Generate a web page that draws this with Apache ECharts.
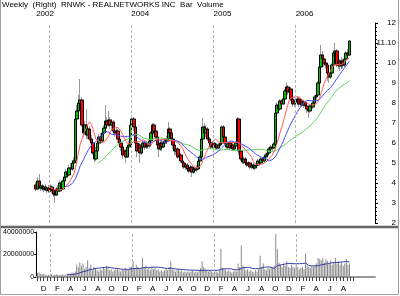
<!DOCTYPE html>
<html><head><meta charset="utf-8">
<script src="https://cdn.jsdelivr.net/npm/echarts@6/dist/echarts.min.js"></script>
<style>html,body{margin:0;padding:0;background:#fff}#c{width:400px;height:296px}</style>
</head><body><div id="c"></div>
<script>
// ---- data (weekly, first week 2002-11-04) ----
const firstWeek = '2002-11-04';
const opens = [
3.9,3.7,4.1,3.75,3.85,3.7,3.8,3.65,3.75,3.6,
3.8,3.65,3.45,3.4,3.7,3.6,4.0,3.7,4.1,4.3,
4.55,4.4,4.75,4.7,5.0,5.1,7.2,7.6,8.0,8.15,
6.9,6.5,6.9,6.4,6.7,6.2,6.0,5.5,5.2,5.6,
6.0,6.3,6.1,6.5,6.75,7.1,6.9,7.15,6.9,7.05,
6.6,6.5,6.6,6.2,6.0,5.8,5.4,5.6,5.3,5.8,
5.9,6.9,7.2,6.8,6.0,5.6,5.9,5.5,5.8,6.0,
5.8,5.95,5.85,6.1,6.5,6.9,6.6,6.3,5.9,5.7,
6.0,5.8,6.0,6.1,6.2,6.7,6.5,6.2,5.9,5.6,
5.7,5.3,5.4,5.1,5.0,4.8,4.9,4.7,4.6,4.8,
4.55,4.7,4.65,4.7,5.1,5.3,6.2,6.8,6.5,6.7,
6.2,6.0,5.8,6.0,5.8,5.9,5.75,5.9,6.0,6.8,
6.3,6.0,5.8,6.0,5.75,5.9,5.7,5.85,6.0,7.2,
5.6,5.2,5.05,5.2,5.0,4.9,5.0,4.8,4.9,4.75,
4.85,4.9,5.1,5.0,5.2,5.1,5.3,5.4,5.5,5.7,
5.8,5.75,5.95,7.5,7.9,7.7,8.1,7.95,8.2,8.6,
8.8,8.55,8.7,8.2,7.95,8.1,8.05,8.2,7.95,8.1,
7.9,8.05,7.85,7.7,7.6,7.85,7.8,8.0,8.3,8.4,
9.0,9.8,10.4,10.2,10.0,9.9,9.5,9.3,9.5,9.9,
10.5,10.6,9.9,10.1,9.85,10.1,9.9,10.2,10.5,10.4];
const closes = [
3.7,4.1,3.75,3.85,3.7,3.8,3.65,3.75,3.6,3.8,
3.65,3.45,3.4,3.7,3.6,4.0,3.7,4.1,4.3,4.55,
4.4,4.75,4.7,5.0,5.1,7.2,7.6,8.0,8.15,6.9,
6.5,6.9,6.4,6.7,6.2,6.0,5.5,5.2,5.6,6.0,
6.3,6.1,6.5,6.75,7.1,6.9,7.15,6.9,7.05,6.6,
6.5,6.6,6.2,6.0,5.8,5.4,5.6,5.3,5.8,5.9,
6.9,7.2,6.8,6.0,5.6,5.9,5.5,5.8,6.0,5.8,
5.95,5.85,6.1,6.5,6.9,6.6,6.3,5.9,5.7,6.0,
5.8,6.0,6.1,6.2,6.7,6.5,6.2,5.9,5.6,5.7,
5.3,5.4,5.1,5.0,4.8,4.9,4.7,4.6,4.8,4.55,
4.7,4.65,4.7,5.1,5.3,6.2,6.8,6.5,6.7,6.2,
6.0,5.8,6.0,5.8,5.9,5.75,5.9,6.0,6.8,6.3,
6.0,5.8,6.0,5.75,5.9,5.7,5.85,6.0,7.2,5.6,
5.2,5.05,5.2,5.0,4.9,5.0,4.8,4.9,4.75,4.85,
4.9,5.1,5.0,5.2,5.1,5.3,5.4,5.5,5.7,5.8,
5.75,5.95,7.5,7.9,7.7,8.1,7.95,8.2,8.6,8.8,
8.55,8.7,8.2,7.95,8.1,8.05,8.2,7.95,8.1,7.9,
8.05,7.85,7.7,7.6,7.85,7.8,8.0,8.3,8.4,9.0,
9.8,10.4,10.2,10.0,9.9,9.5,9.3,9.5,9.9,10.5,
10.6,9.9,10.1,9.85,10.1,9.9,10.2,10.5,10.4,11.1];
const lows = [
3.6,3.65,3.7,3.6,3.6,3.55,3.6,3.5,3.5,3.55,
3.5,3.3,3.0,3.35,3.45,3.55,3.6,3.65,4.0,4.2,
4.25,4.35,4.55,4.6,4.85,5.0,7.0,7.5,7.7,6.8,
6.3,6.4,6.2,6.2,6.1,5.8,5.4,5.05,5.1,5.5,
5.9,5.95,6.0,6.3,6.6,6.7,6.8,6.7,6.6,6.5,
6.3,6.2,6.0,5.9,5.6,5.2,5.3,5.0,5.25,5.6,
5.8,6.7,6.6,5.8,5.3,5.5,5.0,5.4,5.7,5.65,
5.7,5.7,5.75,6.0,6.4,6.4,6.1,5.8,5.3,5.6,
5.6,5.75,5.85,5.95,6.1,6.3,6.0,5.7,5.4,5.4,
5.2,5.2,5.0,4.9,4.7,4.65,4.55,4.5,4.5,4.3,
4.45,4.5,4.55,4.65,5.0,5.25,6.1,6.4,6.3,6.1,
5.8,5.7,5.7,5.7,5.7,5.65,5.7,5.8,5.95,6.2,
5.9,5.7,5.7,5.65,5.7,5.6,5.6,5.75,5.95,5.4,
5.1,4.95,4.95,4.9,4.8,4.8,4.7,4.7,4.65,4.65,
4.75,4.85,4.9,4.95,5.0,5.05,5.2,5.3,5.4,5.6,
5.6,5.7,5.9,7.3,7.5,7.6,7.8,7.9,8.1,8.4,
8.4,8.4,8.1,7.8,7.8,7.9,7.9,7.8,7.85,7.8,
7.75,7.7,7.5,7.25,7.5,7.6,7.7,7.95,8.1,8.3,
8.9,9.7,9.9,9.8,9.7,9.1,9.0,9.2,9.4,9.8,
10.2,9.8,9.7,9.6,9.7,9.7,9.8,10.1,10.2,10.35];
const highs = [
4.05,4.3,4.45,3.95,3.95,3.9,3.95,3.85,3.9,3.95,
3.9,3.75,3.6,3.8,3.9,4.15,4.1,4.2,4.45,4.7,
4.75,4.9,5.0,5.15,5.3,7.3,7.9,8.4,9.2,8.3,
7.2,7.1,7.7,6.9,6.85,6.4,6.1,5.7,5.8,6.1,
6.45,6.5,6.7,6.9,7.9,7.3,7.6,7.3,7.2,7.15,
6.8,6.75,6.7,6.3,6.1,5.9,5.7,5.7,5.9,6.1,
7.0,7.4,7.3,7.0,6.2,6.0,6.0,5.9,6.1,6.15,
6.1,6.05,6.2,6.6,7.0,7.0,6.7,6.4,6.0,6.1,
6.1,6.1,6.25,6.35,7.05,6.8,6.6,6.3,6.0,5.8,
5.8,5.5,5.5,5.2,5.1,5.0,5.0,4.85,4.9,4.85,
4.8,4.8,4.9,5.2,5.4,6.3,7.25,7.0,6.9,6.8,
6.3,6.1,6.1,6.1,6.0,6.0,6.0,6.1,6.9,6.9,
6.4,6.1,6.1,6.1,6.0,6.0,5.95,6.1,7.3,7.25,
5.7,5.3,5.35,5.3,5.1,5.1,5.05,5.0,5.0,4.95,
5.0,5.2,5.2,5.3,5.3,5.4,5.5,5.6,5.8,5.9,
5.95,6.05,7.65,8.05,8.1,8.2,8.2,8.3,8.7,9.05,
8.9,8.8,8.8,8.3,8.2,8.3,8.3,8.3,8.2,8.2,
8.15,8.1,7.95,7.8,7.95,8.0,8.1,8.4,8.5,9.1,
9.9,10.9,10.6,10.3,10.2,10.0,9.6,9.7,10.0,10.6,
11.0,10.7,10.2,10.2,10.3,10.2,10.3,10.6,10.7,11.15];
// weekly volume, millions of shares
const volumeMillions = [
3.5,4,3,2.5,3,2,1.5,2,1.5,2.5,
1.5,2,2.5,2,1.5,2,2.5,1.5,2,3,
2.5,3,4,3.5,5,11,9,13,10,12,
7,9,15,8,11,6,9,8,6,5,
7,6,8,7,10,8,6,7,5,6,
7,8,6,5,7,6,8,7,6,9,
9,14,8,11,9,7,8,17,8,10,
7,8,6,9,7,8,6,7,5,6,
5,6,7,6,9,14,7,6,5,6,
7,5,6,4,5,4,5,4,5,6,
4,5,4,6,8,14,9,7,6,5,
6,5,4,6,5,4,6,25,8,7,
6,5,6,5,4,5,6,5,12,9,
28,10,8,6,7,5,6,5,4,6,
5,7,19,8,12,7,6,8,7,9,
8,10,38,25,13,11,9,12,10,14,
9,8,11,9,8,10,9,7,8,9,
7,21,10,9,8,10,9,11,12,17,
16,15,17,13,16,14,12,15,11,13,
17,12,14,11,13,10,12,16,11,12];
const yearLabelDates = ['2002-11-04','2004-01-01','2005-01-01','2006-01-01'];
const yearLineDates = ['2003-01-01','2004-01-01','2005-01-01','2006-01-01'];
const monthInitials = ['J','F','M','A','M','J','J','A','S','O','N','D'];
const maPeriods = {red: 10, blue: 20, green: 40, volume: 20};
const titleText = 'Weekly  (Right)  RNWK - REALNETWORKS INC  Bar  Volume';

// ---- helpers ----
const DAY = 86400000;
const ts = s => Date.parse(s + 'T00:00:00Z');
const dates = closes.map((_, i) => ts(firstWeek) + i * 7 * DAY);
function sma(arr, n) {
  return arr.map((_, i) => {
    if (i < n - 1) return null;
    let s = 0; for (let k = i - n + 1; k <= i; k++) s += arr[k];
    return s / n;
  });
}
const pair = arr => arr.map((v, i) => [dates[i], v]);
const lastClose = closes[closes.length - 1];

const monthVals = [];
for (let y = 2002, m = 11; y < 2006 || (y === 2006 && m <= 7); ) {
  monthVals.push(Date.UTC(y, m, 1));
  m += 2; if (m > 11) { m -= 12; y++; }
}
const tickVals = [];
for (let y = 2002, m = 10; y < 2006 || (y === 2006 && m <= 8); ) {
  tickVals.push(Date.UTC(y, m, 1)); tickVals.push(Date.UTC(y, m, 16));
  m++; if (m > 11) { m = 0; y++; }
}
const X_MIN_PRICE = ts('2002-06-05');
const X_MIN_VOL = ts('2002-10-29');
const X_MAX = ts('2006-12-20');

const yearMarkLine = {
  silent: true, symbol: ['none', 'none'], animation: false,
  label: {show: false},
  lineStyle: {color: '#b4b4b4', type: [3, 2], width: 1},
  data: yearLineDates.map(d => ({xAxis: ts(d)}))
};

const chart = echarts.init(document.getElementById('c'), null, {renderer: 'canvas'});
chart.setOption({
  animation: false,
  backgroundColor: '#fff',
  textStyle: {fontFamily: 'Liberation Sans, Arial, sans-serif'},
  title: {text: titleText, left: 2, top: 1, padding: 0,
    textStyle: {fontSize: 8, fontWeight: 'normal', color: '#000', fontFamily: 'Liberation Sans'}},
  grid: [
    {left: 2, right: 25, top: 23, height: 200},
    {left: 35, right: 25, top: 232, height: 45}
  ],
  xAxis: [
    {type: 'value', gridIndex: 0, min: X_MIN_PRICE, max: X_MAX, show: false},
    {type: 'value', gridIndex: 0, position: 'top', min: X_MIN_PRICE, max: X_MAX,
      axisLine: {show: false}, axisTick: {show: false}, splitLine: {show: false},
      axisLabel: {customValues: yearLabelDates.map(ts),
        formatter: v => String(new Date(v).getUTCFullYear()),
        align: 'left', fontSize: 8, margin: 5, color: '#000'}},
    {type: 'value', gridIndex: 1, min: X_MIN_VOL, max: X_MAX,
      axisLine: {show: true, onZero: false, lineStyle: {color: '#999', width: 2}},
      axisTick: {show: true, customValues: tickVals, length: 4, lineStyle: {color: '#444'}},
      splitLine: {show: false},
      axisLabel: {customValues: monthVals, formatter: v => monthInitials[new Date(v).getUTCMonth()],
        fontSize: 8, margin: 8, color: '#000'}}
  ],
  yAxis: [
    {type: 'value', gridIndex: 0, position: 'right', min: 2, max: 12, interval: 1,
      axisLine: {show: true, lineStyle: {color: '#000'}},
      axisTick: {show: true, length: 3, lineStyle: {color: '#000'}},
      minorTick: {show: true, splitNumber: 5, length: 2, lineStyle: {color: '#000'}},
      splitLine: {show: false},
      axisLabel: {fontSize: 8, color: '#000', align: 'right', margin: 21,
        formatter: v => Math.abs(v - Math.round(lastClose)) < 1e-6 ? lastClose.toFixed(2) : String(v)}},
    {type: 'value', gridIndex: 1, min: 0, max: 40000000, interval: 20000000,
      axisLine: {show: true, lineStyle: {color: '#000'}},
      axisTick: {show: true, length: 2, lineStyle: {color: '#000'}},
      splitLine: {show: false},
      axisLabel: {fontSize: 7, color: '#000', margin: 2, formatter: v => String(v)}}
  ],
  series: [
    {type: 'line', xAxisIndex: 0, yAxisIndex: 0, data: pair(sma(closes, maPeriods.green)),
      showSymbol: false, lineStyle: {color: '#5fd35f', width: 1}},
    {type: 'line', xAxisIndex: 0, yAxisIndex: 0, data: pair(sma(closes, maPeriods.blue)),
      showSymbol: false, lineStyle: {color: '#4848ff', width: 1}},
    {type: 'line', xAxisIndex: 0, yAxisIndex: 0, data: pair(sma(closes, maPeriods.red)),
      showSymbol: false, lineStyle: {color: '#ff5a5a', width: 1}},
    {type: 'candlestick', xAxisIndex: 0, yAxisIndex: 0, barWidth: 1,
      data: dates.map((d, i) => [d, opens[i], closes[i], lows[i], highs[i]]),
      encode: {x: 0, y: [1, 2, 3, 4]},
      itemStyle: {color: '#9a9a9a', color0: '#9a9a9a', borderColor: '#9a9a9a', borderColor0: '#9a9a9a', borderColorDoji: '#9a9a9a', borderWidth: 1},
      markLine: yearMarkLine},
    {type: 'candlestick', xAxisIndex: 0, yAxisIndex: 0, barWidth: 3,
      data: dates.map((d, i) => [d, opens[i], closes[i], Math.min(opens[i], closes[i]), Math.max(opens[i], closes[i])]),
      encode: {x: 0, y: [1, 2, 3, 4]},
      itemStyle: {color: '#00c000', color0: '#ff0000', borderColor: '#000', borderColor0: '#000', borderColorDoji: '#000', borderWidth: 1}},
    {type: 'bar', xAxisIndex: 2, yAxisIndex: 1, barWidth: 1,
      data: volumeMillions.map((v, i) => [dates[i], v * 1e6]),
      itemStyle: {color: '#8a8a8a'}, markLine: yearMarkLine},
    {type: 'line', xAxisIndex: 2, yAxisIndex: 1,
      data: pair(sma(volumeMillions, maPeriods.volume).map(v => v == null ? null : v * 1e6)),
      showSymbol: false, lineStyle: {color: '#3c3ca8', width: 1}}
  ],
  graphic: [
    {type: 'line', silent: true, shape: {x1: 0, y1: 227, x2: 399, y2: 227}, style: {stroke: '#666', lineWidth: 2.5}},
    {type: 'polyline', silent: true, shape: {points: [[0.5, 0], [0.5, 294.5], [398.5, 294.5], [398.5, 0]]},
      style: {stroke: '#a0a0a0', lineWidth: 1, fill: null}}
  ]
});
</script></body></html>
